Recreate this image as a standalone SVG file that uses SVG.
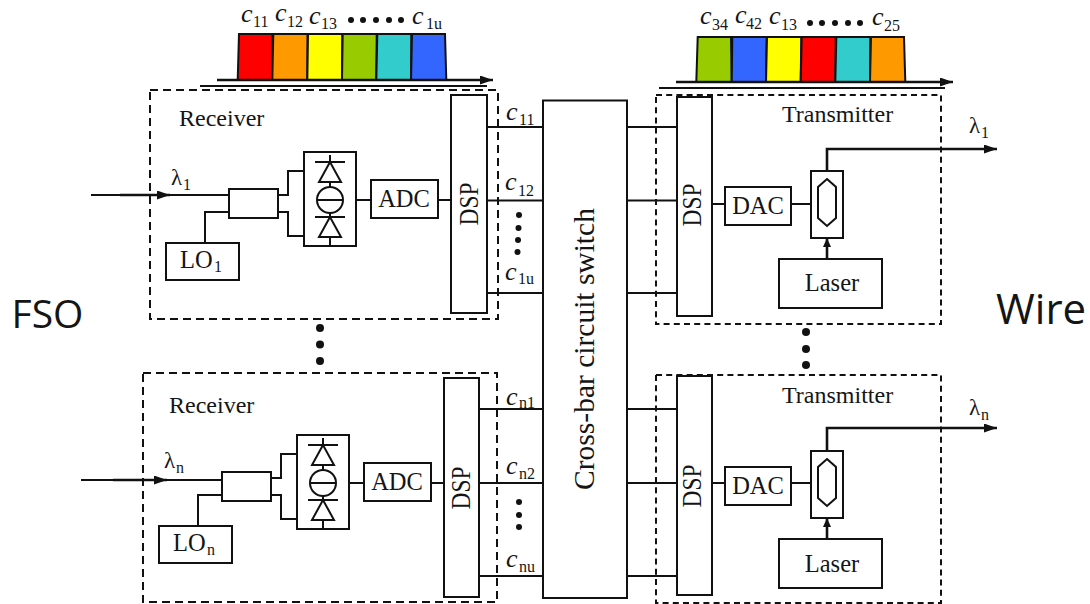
<svg xmlns="http://www.w3.org/2000/svg" width="1090" height="604" viewBox="0 0 1090 604">
<style>
text{font-family:"Liberation Serif","Times New Roman",serif;fill:#151515}
.t{font-size:24.500px}
.x{font-size:24px}
.v{font-size:27px}
.m{text-anchor:middle}
.c{font-size:26px;font-style:italic}
.s{font-size:16px}
.l{font-size:23px}
.big{font-family:"Open Sans","Noto Sans",sans-serif}
.b{fill:#fff;stroke:#111;stroke-width:2}
.n{fill:none;stroke:#111;stroke-width:2}
.w{fill:none;stroke:#111;stroke-width:2}
.k{fill:none;stroke:#111;stroke-width:2.600}
.d1{fill:none;stroke:#111;stroke-width:2;stroke-dasharray:8 5}
.d2{fill:none;stroke:#111;stroke-width:2;stroke-dasharray:6 4.200}
.p{stroke:#111;stroke-width:2}
.dot{fill:#111}
</style>
<defs>
<marker id="ah" markerUnits="userSpaceOnUse" markerWidth="14" markerHeight="10" refX="13" refY="4.500" orient="auto"><path d="M0 0L13 4.500L0 9Z" fill="#111"/></marker>
<marker id="au" markerUnits="userSpaceOnUse" markerWidth="10" markerHeight="10" refX="9" refY="4" orient="auto"><path d="M0 0L9 4L0 8Z" fill="#111"/></marker>
<g id="pd">
<rect class="b" x="304" y="152" width="52" height="94"/>
<path class="n" d="M330 155V162M315 162H345M330 162L319 182H341ZM330 182V187M330 213V217M315 217H345M330 217L319 237H341ZM330 237V246M317 200H343"/>
<circle class="n" cx="330" cy="200" r="13"/>
</g>
<g id="rxwire">
<path class="w" d="M205 243V212H229M278 195H288V171H304M278 212H288V236H304M356 200H371M438 200H451"/>
</g>
<g id="mod">
<rect class="b" x="811" y="171" width="32" height="67"/>
<path class="n" d="M827 179L836 187V218L827 226L818 218V187Z"/>
</g>
</defs>

<rect id="bg" width="1090" height="604" fill="#fff"/>

<g id="connectors">
<path class="w" d="M91 195H229"/>
<path class="k" d="M120 195H170" marker-end="url(#ah)"/>
<path class="w" d="M81 480H222"/>
<path class="k" d="M113 480H167" marker-end="url(#ah)"/>
<use href="#rxwire"/>
<use href="#rxwire" transform="translate(-7 283)"/>
<path class="w" d="M487 127H543M487 200.500H543M487 293H543M479 409H543M479 483H543M479 576H543"/>
<path class="w" d="M627 127H677M627 200.500H677M627 293H677M627 409H677M627 483H677M627 576H677"/>
<path class="w" d="M712 204H725M791 204H811M712 483H725M791 483H811"/>
<path class="k" d="M827 259V238" marker-end="url(#au)"/>
<path class="k" d="M827 539V518" marker-end="url(#au)"/>
<path class="k" d="M827 171V149H997" marker-end="url(#ah)"/>
<path class="k" d="M827 451V428H997" marker-end="url(#ah)"/>
</g>

<g id="spectrum-in">
<path d="M239 34H272.500L273 80H237.700Z" fill="#f00" class="p"/>
<path d="M273.300 34H307.500L307.300 80H272.300Z" fill="#f90" class="p"/>
<path d="M308 34H342.300L342 80H307.300Z" fill="#ff0" class="p"/>
<path d="M342.700 34H376.700L376.300 80H342Z" fill="#9c0" class="p"/>
<path d="M377.300 34H411.300L411 80H376.300Z" fill="#3cc" class="p"/>
<path d="M412 34H445L446.300 80H411Z" fill="#36f" class="p"/>
<path class="k" d="M217 80H493" marker-end="url(#ah)"/>
<path class="k" d="M200 86H487" style="stroke-width:2"/>
<text class="c" x="241" y="22">c</text><text class="s" x="253" y="27">11</text>
<text class="c" x="275" y="21">c</text><text class="s" x="287" y="27">12</text>
<text class="c" x="309" y="24">c</text><text class="s" x="321" y="29">13</text>
<g class="dot"><circle cx="351" cy="20" r="3"/><circle cx="363" cy="20" r="3"/><circle cx="376" cy="20" r="3"/><circle cx="389" cy="20" r="3"/><circle cx="401" cy="20" r="3"/></g>
<text class="c" x="412" y="24">c</text><text class="s" x="426" y="29">1u</text>
</g>

<g id="spectrum-out">
<path d="M697.700 37H731L731.700 82H696.300Z" fill="#9c0" class="p"/>
<path d="M732.300 37H766.700L766 82H731.700Z" fill="#36f" class="p"/>
<path d="M767 37H801.300L800.700 82H766Z" fill="#ff0" class="p"/>
<path d="M801.700 37H835.700L835.300 82H800.700Z" fill="#f00" class="p"/>
<path d="M836.300 37H870.300L870 82H835.300Z" fill="#3cc" class="p"/>
<path d="M871 37H904L905.300 82H870Z" fill="#f90" class="p"/>
<path class="k" d="M676 82H953" marker-end="url(#ah)"/>
<path class="k" d="M659 88H945" style="stroke-width:2"/>
<text class="c" x="700" y="24">c</text><text class="s" x="712" y="30">34</text>
<text class="c" x="735" y="23">c</text><text class="s" x="746" y="29">42</text>
<text class="c" x="769" y="24">c</text><text class="s" x="781" y="30">13</text>
<g class="dot"><circle cx="810" cy="23" r="3"/><circle cx="822" cy="23" r="3"/><circle cx="835" cy="23" r="3"/><circle cx="848" cy="23" r="3"/><circle cx="860" cy="23" r="3"/></g>
<text class="c" x="872" y="25">c</text><text class="s" x="884" y="31">25</text>
</g>

<g id="receiver-1">
<rect class="d1" x="150" y="90" width="348" height="229"/>
<text class="x" x="179" y="126">Receiver</text>
<text class="l" x="171" y="185">λ</text><text class="s" x="183" y="190">1</text>
<rect class="b" x="229" y="189" width="49" height="29"/>
<rect class="b" x="166" y="243" width="73" height="37"/>
<text class="t" x="180" y="268">LO</text><text class="s" x="214" y="272">1</text>
<use href="#pd"/>
<rect class="b" x="371" y="180" width="67" height="38"/>
<text class="t m" x="404" y="207">ADC</text>
<rect class="b" x="451" y="95" width="36" height="218"/>
<text class="v m" transform="translate(478 204) rotate(-90)" textLength="43" lengthAdjust="spacingAndGlyphs">DSP</text>
<text class="c" x="506" y="120">c</text><text class="s" x="519" y="125">11</text>
<text class="c" x="505" y="190">c</text><text class="s" x="518" y="196">12</text>
<text class="c" x="505" y="280">c</text><text class="s" x="518" y="284">1u</text>
<g class="dot"><circle cx="519" cy="215" r="3"/><circle cx="518.500" cy="228" r="3"/><circle cx="518" cy="240" r="3"/><circle cx="517.500" cy="252" r="3"/></g>
</g>

<g id="receiver-n">
<rect class="d1" x="143" y="373" width="354" height="229"/>
<text class="x" x="169" y="413">Receiver</text>
<text class="l" x="164" y="468">λ</text><text class="s" x="176" y="473">n</text>
<rect class="b" x="222" y="472" width="49" height="29"/>
<rect class="b" x="159" y="526" width="73" height="37"/>
<text class="t" x="173" y="551">LO</text><text class="s" x="207" y="555">n</text>
<use href="#pd" transform="translate(-7 283)"/>
<rect class="b" x="364" y="463" width="67" height="38"/>
<text class="t m" x="397" y="490">ADC</text>
<rect class="b" x="444" y="378" width="35" height="219"/>
<text class="v m" transform="translate(470 488) rotate(-90)" textLength="43" lengthAdjust="spacingAndGlyphs">DSP</text>
<text class="c" x="506" y="405">c</text><text class="s" x="519" y="408">n1</text>
<text class="c" x="506" y="474">c</text><text class="s" x="519" y="479">n2</text>
<text class="c" x="506" y="567">c</text><text class="s" x="519" y="572">nu</text>
<g class="dot"><circle cx="519" cy="502" r="3"/><circle cx="519" cy="515" r="3"/><circle cx="519" cy="527" r="3"/></g>
</g>

<g id="dots-rx" class="dot"><circle cx="320" cy="328" r="4"/><circle cx="320" cy="344.500" r="4"/><circle cx="320" cy="361" r="4"/></g>
<g id="dots-tx" class="dot"><circle cx="806" cy="332" r="4"/><circle cx="806" cy="349" r="4"/><circle cx="806" cy="365" r="4"/></g>

<g id="switch">
<rect class="b" x="543" y="100.500" width="84" height="497.500"/>
<text class="m" font-size="29.500" transform="translate(594 349) rotate(-90)">Cross-bar circuit switch</text>
</g>

<g id="transmitter-1">
<rect class="d2" x="656" y="95" width="285" height="229"/>
<text class="x" x="782" y="122">Transmitter</text>
<rect class="b" x="677" y="97" width="35" height="219"/>
<text class="v m" transform="translate(701 205) rotate(-90)" textLength="43" lengthAdjust="spacingAndGlyphs">DSP</text>
<rect class="b" x="725" y="187" width="66" height="38"/>
<text class="t m" x="758" y="214">DAC</text>
<use href="#mod"/>
<rect class="b" x="779" y="259" width="103" height="49"/>
<text class="t m" x="832" y="291">Laser</text>
<text class="l" x="969" y="133">λ</text><text class="s" x="981" y="138">1</text>
</g>

<g id="transmitter-n">
<rect class="d2" x="656" y="375" width="285" height="228"/>
<text class="x" x="782" y="403">Transmitter</text>
<rect class="b" x="677" y="376" width="35" height="219"/>
<text class="v m" transform="translate(701 486) rotate(-90)" textLength="43" lengthAdjust="spacingAndGlyphs">DSP</text>
<rect class="b" x="725" y="467" width="66" height="38"/>
<text class="t m" x="758" y="494">DAC</text>
<use href="#mod" transform="translate(0 280)"/>
<rect class="b" x="779" y="539" width="103" height="49"/>
<text class="t m" x="832" y="572">Laser</text>
<text class="l" x="969" y="415">λ</text><text class="s" x="981" y="420">n</text>
</g>

<text id="fso" class="big" font-size="39" x="11.500" y="328">FSO</text>
<text id="wire" class="big" font-size="42" x="996" y="324">Wire</text>
</svg>
